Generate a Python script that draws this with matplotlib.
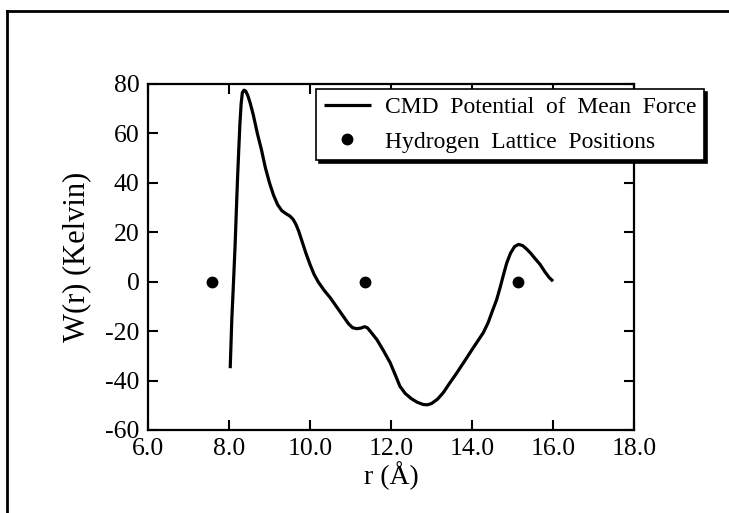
import numpy as np
import matplotlib.pyplot as plt
from matplotlib.lines import Line2D

# potential of mean force, W(r) in Kelvin vs r in Angstrom
r_pmf = [8.03, 8.05, 8.07, 8.09, 8.12, 8.15, 8.18, 8.21, 8.24, 8.27, 8.30,
         8.33, 8.37, 8.41, 8.46, 8.52, 8.60, 8.70, 8.80, 8.90, 9.00, 9.10,
         9.20, 9.30, 9.40, 9.50, 9.58, 9.65, 9.72, 9.80, 9.90, 10.00, 10.10,
         10.20, 10.35, 10.50, 10.65, 10.80, 10.95, 11.05, 11.15, 11.25,
         11.35, 11.42, 11.50, 11.65, 11.80, 11.98, 12.10, 12.22, 12.35,
         12.50, 12.65, 12.80, 12.90, 13.00, 13.15, 13.29, 13.45, 13.60,
         13.79, 14.00, 14.15, 14.28, 14.40, 14.50, 14.61, 14.70, 14.78,
         14.86, 14.95, 15.05, 15.15, 15.25, 15.35, 15.45, 15.55, 15.68,
         15.80, 15.90, 16.00]
w_pmf = [-35.0, -25.0, -15.0, -8.0, 3.0, 14.4, 28.0, 41.4, 53.0, 64.0, 72.0,
         76.5, 77.5, 77.2, 75.5, 72.5, 67.5, 60.0, 53.5, 46.0, 40.0, 35.0,
         31.2, 28.8, 27.6, 26.6, 25.3, 23.3, 20.5, 16.5, 11.5, 7.0, 3.0,
         0.0, -3.5, -6.5, -10.0, -13.5, -17.0, -18.6, -19.0, -18.8,
         -18.2, -18.7, -20.3, -23.4, -27.5, -32.8, -37.5, -42.3, -45.2,
         -47.3, -48.8, -49.7, -49.8, -49.3, -47.5, -44.9, -41.0, -37.5,
         -32.8, -27.5, -23.8, -20.6, -16.5, -12.0, -7.2, -2.0, 3.0,
         7.7, 11.5, 14.2, 15.1, 14.6, 13.2, 11.5, 9.5, 7.0,
         4.0, 1.8, 0.2]

# hydrogen lattice sites
r_lattice = [7.57, 11.35, 15.13]
w_lattice = [0, 0, 0]

xticks = [6, 8, 10, 12, 14, 16, 18]
yticks = [-60, -40, -20, 0, 20, 40, 60, 80]

plt.rcParams['font.family'] = ['Liberation Serif', 'DejaVu Serif']
plt.rcParams['axes.unicode_minus'] = False

fig = plt.figure(figsize=[7.29, 5.13], dpi=100)
ax = fig.add_axes([0.2030, 0.1618, 0.6667, 0.6745])

ax.plot(r_pmf, w_pmf, color='k', lw=2.3, solid_joinstyle='round',
        solid_capstyle='butt', label='CMD  Potential  of  Mean  Force')
ax.plot(r_lattice, w_lattice, 'o', color='k', ms=7.5, ls='none',
        label='Hydrogen  Lattice  Positions')

ax.set_xlim(6, 18)
ax.set_ylim(-60, 80)
ax.set_xticks(xticks)
ax.set_xticklabels(['%.1f' % t for t in xticks])
ax.set_yticks(yticks)
ax.tick_params(direction='in', length=7, width=1.5, top=True, right=True,
               labelsize=18.5, pad=6)
for s in ax.spines.values():
    s.set_linewidth(1.6)

ax.set_xlabel('r (Å)', fontsize=20, labelpad=1)
ax.set_ylabel('W(r) (Kelvin)', fontsize=22, labelpad=10)

leg = ax.legend(loc='upper left', bbox_to_anchor=(316 / 729, 1 - 89 / 513),
                bbox_transform=fig.transFigure, fontsize=17, frameon=True,
                fancybox=False, edgecolor='k', framealpha=1,
                shadow={'color': 'k', 'alpha': 1},
                handlelength=2.0, handletextpad=0.6, borderpad=0.32,
                labelspacing=0.55, borderaxespad=0)
leg.get_frame().set_linewidth(1.2)

# outer frame along the top and left edges
fig.add_artist(Line2D([7 / 729, 7 / 729], [0, 1 - 11 / 513], color='k', lw=2,
                      transform=fig.transFigure))
fig.add_artist(Line2D([7 / 729, 1], [1 - 11 / 513, 1 - 11 / 513], color='k',
                      lw=2, transform=fig.transFigure))

plt.savefig('out.png', dpi=100)
